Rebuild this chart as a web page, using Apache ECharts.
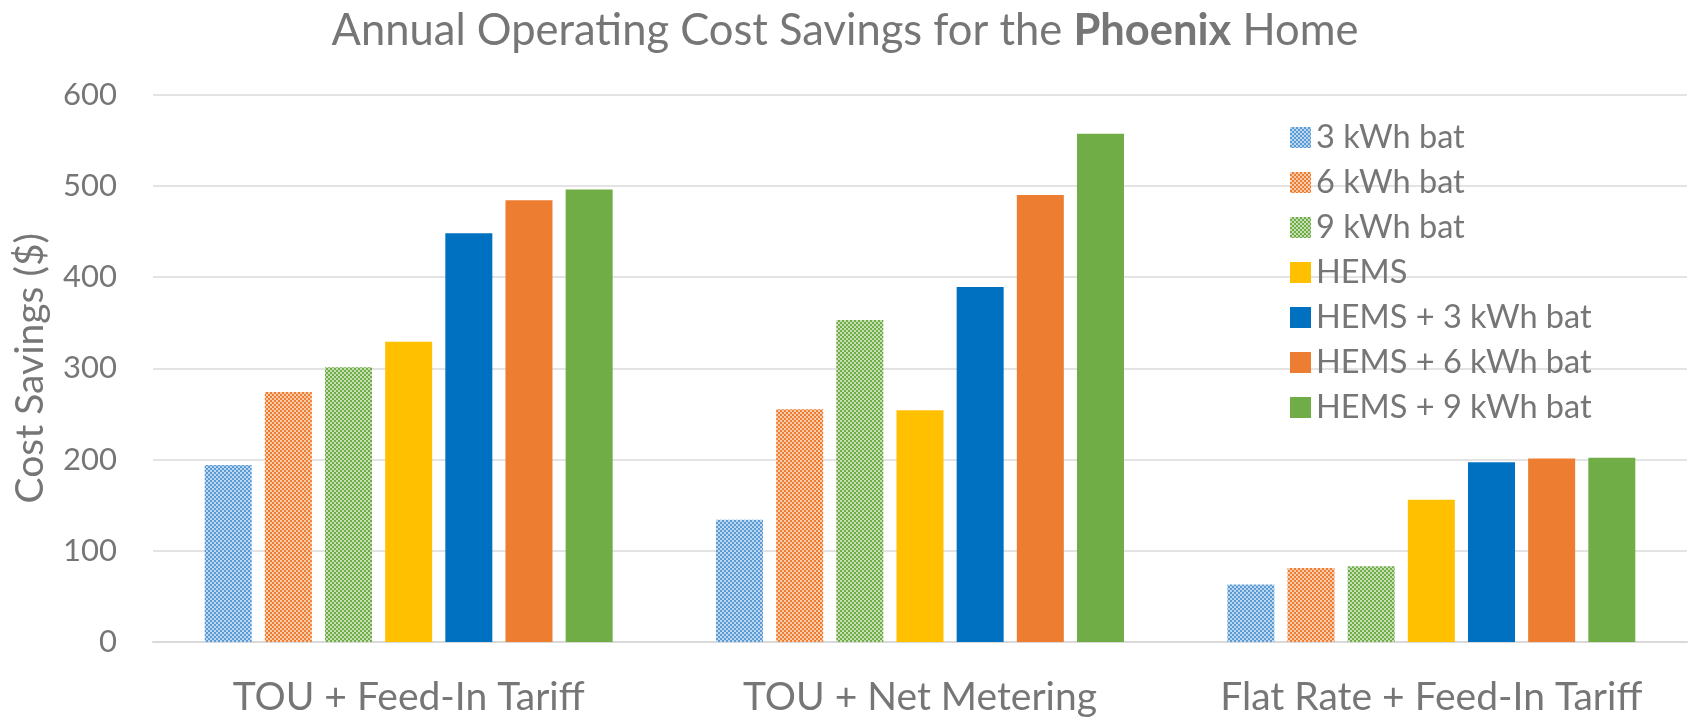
<!DOCTYPE html>
<html lang="en">
<head>
<meta charset="utf-8">
<title>Annual Operating Cost Savings - Phoenix</title>
<script src="https://cdn.jsdelivr.net/npm/echarts@6/dist/echarts.min.js"></script>
<style>
  html, body { margin: 0; padding: 0; background: #fff; }
  #main { width: 1690px; height: 717px; }
</style>
</head>
<body>
<div id="main"></div>
<script>
// data
var categories = ['TOU + Feed-In Tariff', 'TOU + Net Metering', 'Flat Rate + Feed-In Tariff'];
var seriesNames = ['3 kWh bat', '6 kWh bat', '9 kWh bat', 'HEMS', 'HEMS + 3 kWh bat', 'HEMS + 6 kWh bat', 'HEMS + 9 kWh bat'];
var bat3 = [194, 134, 63];
var bat6 = [274, 255, 81];
var bat9 = [301, 353, 83];
var hems = [329, 254, 156];
var hemsBat3 = [448, 389, 197];
var hemsBat6 = [484, 490, 201];
var hemsBat9 = [496, 557, 202];
var yTicks = [0, 100, 200, 300, 400, 500, 600];

var seriesData = [bat3, bat6, bat9, hems, hemsBat3, hemsBat6, hemsBat9];
var colors = ['#5B9BD5', '#ED7D31', '#70AD47', '#FFC000', '#0070C0', '#ED7D31', '#70AD47'];
var patterned = [true, true, true, false, false, false, false];

var textColor = '#767676';
var font = 'Lato';

// small checkerboard fill, like the office "small checker" pattern
function checker(color) {
    var c = document.createElement('canvas');
    c.width = 4; c.height = 4;
    var ctx = c.getContext('2d');
    ctx.fillStyle = color;
    ctx.fillRect(0, 0, 4, 4);
    ctx.fillStyle = 'rgba(255,255,255,0.6)';
    ctx.fillRect(0, 0, 2, 2);
    ctx.fillRect(2, 2, 2, 2);
    return { image: c, repeat: 'repeat' };
}

var series = seriesNames.map(function (name, i) {
    return {
        name: name,
        type: 'bar',
        data: seriesData[i],
        barWidth: 47,
        barGap: '28%',
        itemStyle: { color: patterned[i] ? checker(colors[i]) : colors[i] }
    };
});

var myChart = echarts.init(document.getElementById('main'));
myChart.setOption({
    animation: false,
    title: {
        text: 'Annual Operating Cost Savings for the {b|Phoenix} Home',
        left: 'center',
        top: 4,
        textStyle: {
            fontFamily: font,
            fontSize: 43.5,
            lineHeight: 44,
            fontWeight: 'normal',
            color: textColor,
            rich: {
                b: { fontFamily: font, fontSize: 43.5, lineHeight: 44, fontWeight: 'bold', color: textColor }
            }
        }
    },
    legend: {
        orient: 'vertical',
        left: 1285,
        top: 116,
        itemWidth: 21,
        itemHeight: 21,
        itemGap: 12,
        icon: 'rect',
        data: seriesNames,
        textStyle: { fontFamily: font, fontSize: 32.5, color: textColor, lineHeight: 31 }
    },
    grid: {
        left: 153,
        right: 3,
        top: 94.5,
        bottom: 74.5,
        containLabel: false
    },
    xAxis: {
        type: 'category',
        data: categories,
        axisTick: { show: false },
        axisLine: { lineStyle: { color: '#d9d9d9', width: 2 } },
        axisLabel: { interval: 0, fontFamily: font, fontSize: 39, lineHeight: 39, color: textColor, margin: 36 }
    },
    yAxis: {
        type: 'value',
        name: 'Cost Savings ($)',
        nameLocation: 'middle',
        nameGap: 103,
        nameTextStyle: { fontFamily: font, fontSize: 39, color: textColor },
        min: yTicks[0],
        max: yTicks[yTicks.length - 1],
        interval: 100,
        axisLine: { show: false },
        axisTick: { show: false },
        axisLabel: { fontFamily: font, fontSize: 31, color: textColor, margin: 36 },
        splitLine: { lineStyle: { color: '#e3e3e3', width: 2 } }
    },
    series: series
});
</script>
</body>
</html>
